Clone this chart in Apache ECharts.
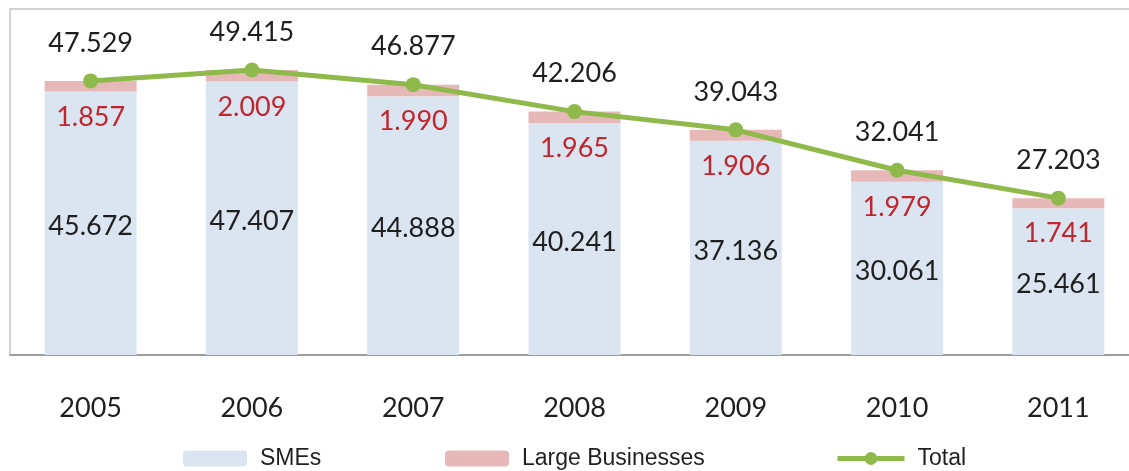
<!DOCTYPE html>
<html>
<head>
<meta charset="utf-8">
<script src="https://cdn.jsdelivr.net/npm/echarts@6/dist/echarts.min.js"></script>
<style>
  html, body { margin: 0; padding: 0; background: #ffffff; }
  #chart { width: 1129px; height: 471px; }
</style>
</head>
<body>
<div id="chart"></div>
<script>
// Business counts per year (thousands)
const years = ['2005', '2006', '2007', '2008', '2009', '2010', '2011'];
const smes = [45.672, 47.407, 44.888, 40.241, 37.136, 30.061, 25.461];
const largeBusinesses = [1.857, 2.009, 1.990, 1.965, 1.906, 1.979, 1.741];
const totals = [47.529, 49.415, 46.877, 42.206, 39.043, 32.041, 27.203];

const fmt = v => v.toFixed(3);
const numFont = 'Lato, "Open Sans", sans-serif';
const legendFont = '"Liberation Sans Narrow", "Liberation Sans", Arial, sans-serif';

const chart = echarts.init(document.getElementById('chart'));

function legendAt(name, left, extra) {
  return Object.assign({
    data: [name],
    left: left,
    top: 447,
    padding: 0,
    itemWidth: 64,
    itemHeight: 16,
    textStyle: {
      fontFamily: legendFont, fontSize: 23, color: '#1f1f1f',
      padding: [0, 0, 0, 8]
    }
  }, extra || {});
}

chart.setOption({
  animation: false,
  backgroundColor: '#ffffff',
  grid: {
    left: 10, top: 9, width: 1129, height: 346,
    outerBoundsMode: 'none',
    show: true, borderColor: '#c4c4c4', borderWidth: 1.5
  },
  legend: [
    legendAt('SMEs', 183),
    legendAt('Large Businesses', 445),
    legendAt('Total', 835, { itemWidth: 67, lineStyle: { width: 5 } })
  ],
  xAxis: {
    type: 'category',
    data: years,
    axisLine: { lineStyle: { color: '#8c8c8c', width: 1.5 } },
    axisTick: { show: false },
    axisLabel: { margin: 40, fontFamily: numFont, fontSize: 27, color: '#1f1f1f' }
  },
  yAxis: {
    type: 'value', min: 0, max: 60, show: false,
    splitLine: { show: false }
  },
  series: [
    {
      name: 'SMEs',
      type: 'bar',
      stack: 'all',
      data: smes,
      barWidth: 92,
      itemStyle: { color: '#dbe5f1' },
      label: {
        show: true, position: 'inside', offset: [0, 3],
        formatter: p => fmt(p.value),
        fontFamily: numFont, fontSize: 27, color: '#1f1f1f'
      }
    },
    {
      name: 'Large Businesses',
      type: 'bar',
      stack: 'all',
      data: largeBusinesses,
      barWidth: 92,
      itemStyle: { color: '#e6b9b8' },
      label: {
        show: true, position: 'bottom', distance: 12,
        formatter: p => fmt(p.value),
        fontFamily: numFont, fontSize: 27, color: '#c0262d'
      }
    },
    {
      name: 'Total',
      type: 'line',
      data: totals,
      z: 5,
      symbol: 'circle',
      symbolSize: 15,
      itemStyle: { color: '#8fba4b' },
      lineStyle: { color: '#8fba4b', width: 5 },
      label: {
        show: true, position: 'top', distance: 17,
        formatter: p => fmt(p.value),
        fontFamily: numFont, fontSize: 27, color: '#1f1f1f'
      }
    }
  ]
});
</script>
</body>
</html>
